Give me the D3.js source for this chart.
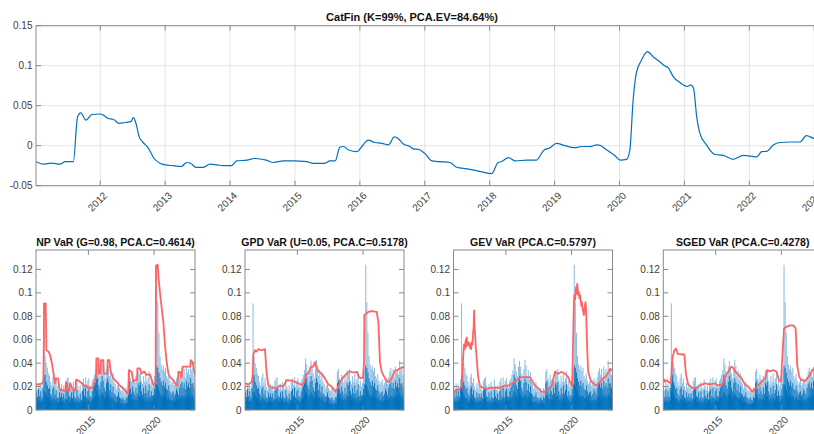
<!DOCTYPE html>
<html><head><meta charset="utf-8">
<script src="https://cdn.jsdelivr.net/npm/d3@7"></script>
<style>
html,body{margin:0;padding:0;background:#fff;overflow:hidden}
svg{display:block;font-family:"Liberation Sans",Arial,Helvetica,sans-serif}
</style></head><body>
<svg id="c" width="814" height="434"></svg>
<script>
// ---------- DATA ----------
const xDomain = [2011.01, 2023.12];
const topYTicks = [-0.05, 0, 0.05, 0.1, 0.15];
const topXTicks = [2012, 2013, 2014, 2015, 2016, 2017, 2018, 2019, 2020, 2021, 2022, 2023];
const botYTicks = [0, 0.02, 0.04, 0.06, 0.08, 0.1, 0.12];
const botXTicks = [2015, 2020];

const topTitle = "CatFin (K=99%, PCA.EV=84.64%)";
const panelTitles = ["NP VaR (G=0.98, PCA.C=0.4614)", "GPD VaR (U=0.05, PCA.C=0.5178)", "GEV VaR (PCA.C=0.5797)", "SGED VaR (PCA.C=0.4278)"];

const catfinT = [2011.01,2011.12,2011.25,2011.38,2011.46,2011.56,2011.585,2011.65,2011.70,2011.78,2011.87,2011.995,2012.05,2012.12,2012.20,2012.29,2012.38,2012.47,2012.51,2012.55,2012.60,2012.65,2012.74,2012.83,2012.92,2013.00,2013.13,2013.25,2013.33,2013.39,2013.475,2013.59,2013.69,2013.80,2013.90,2014.02,2014.10,2014.26,2014.38,2014.56,2014.67,2014.82,2014.975,2015.18,2015.28,2015.46,2015.54,2015.62,2015.69,2015.75,2015.82,2015.96,2016.03,2016.13,2016.23,2016.34,2016.44,2016.53,2016.59,2016.67,2016.77,2016.82,2016.90,2017.00,2017.11,2017.23,2017.39,2017.49,2017.65,2017.85,2018.03,2018.13,2018.18,2018.29,2018.39,2018.57,2018.72,2018.83,2018.93,2019.03,2019.16,2019.31,2019.42,2019.55,2019.65,2019.70,2019.80,2019.93,2020.01,2020.11,2020.16,2020.21,2020.26,2020.34,2020.43,2020.52,2020.62,2020.70,2020.75,2020.83,2020.93,2021.04,2021.10,2021.14,2021.19,2021.24,2021.34,2021.47,2021.60,2021.75,2021.91,2022.11,2022.19,2022.27,2022.37,2022.47,2022.63,2022.78,2022.88,2023.00,2023.12];
const catfinV = [-0.020,-0.023,-0.0217,-0.023,-0.020,-0.020,-0.020,0.036,0.041,0.032,0.039,0.0396,0.038,0.034,0.033,0.028,0.029,0.030,0.035,0.028,0.011,0.005,-0.003,-0.016,-0.022,-0.024,-0.025,-0.026,-0.021,-0.022,-0.027,-0.027,-0.023,-0.024,-0.025,-0.025,-0.019,-0.018,-0.016,-0.018,-0.021,-0.019,-0.019,-0.020,-0.022,-0.022,-0.019,-0.019,-0.002,-0.001,-0.005,-0.0075,-0.001,0.007,0.004,0.003,0.001,0.011,0.009,0.002,-0.001,-0.004,-0.0046,-0.0096,-0.019,-0.020,-0.021,-0.027,-0.029,-0.032,-0.035,-0.021,-0.020,-0.015,-0.019,-0.018,-0.018,-0.006,-0.0025,0.003,0.000,-0.0025,-0.001,-0.001,0.001,0.0004,-0.005,-0.0125,-0.018,-0.017,-0.005,0.057,0.091,0.107,0.1175,0.111,0.105,0.0996,0.0975,0.086,0.079,0.074,0.076,0.072,0.036,0.015,0.001,-0.011,-0.012,-0.017,-0.012,-0.014,-0.0075,-0.007,0.001,0.004,0.0046,0.0046,0.0125,0.009,0.008];

// monthly blue loss bars (Jan 2011 .. Feb 2023)
// thin light-blue spikes
const lossHi = [
 .021,.017,.023,.019,.022,.018,.026,.091,.046,.040,.036,.031,
 .029,.024,.021,.028,.031,.023,.027,.020,.017,.023,.019,.022,
 .018,.021,.016,.025,.027,.028,.021,.018,.022,.017,.024,.019,
 .018,.026,.020,.017,.021,.016,.024,.027,.021,.028,.020,.025,
 .027,.021,.019,.025,.027,.030,.034,.044,.039,.033,.029,.037,
 .042,.037,.031,.027,.035,.043,.038,.029,.034,.026,.032,.024,
 .022,.018,.021,.024,.019,.017,.016,.019,.016,.014,.019,.017,
 .033,.035,.027,.024,.030,.026,.023,.029,.025,.034,.031,.035,
 .025,.022,.029,.024,.031,.024,.027,.033,.021,.025,.020,.023,
 .029,.035,.124,.092,.066,.046,.039,.035,.038,.033,.036,.029,
 .027,.031,.025,.022,.024,.026,.021,.023,.027,.025,.022,.028,
 .033,.036,.030,.035,.028,.037,.032,.035,.030,.042,.034,.036,
 .030,.025];
// thin dark-blue spikes
const lossMid = [
 .015,.011,.018,.012,.016,.011,.019,.030,.030,.024,.021,.018,
 .019,.014,.012,.018,.020,.013,.017,.011,.010,.015,.011,.014,
 .011,.014,.010,.017,.018,.019,.012,.011,.015,.010,.016,.011,
 .010,.017,.012,.010,.014,.009,.016,.018,.012,.019,.011,.016,
 .018,.012,.011,.016,.019,.021,.023,.030,.027,.021,.018,.024,
 .029,.025,.019,.016,.023,.027,.024,.017,.022,.015,.020,.014,
 .013,.011,.012,.015,.011,.010,.009,.011,.009,.008,.011,.010,
 .023,.025,.018,.014,.020,.016,.013,.019,.014,.023,.021,.024,
 .016,.013,.019,.014,.021,.014,.017,.022,.012,.016,.012,.013,
 .018,.022,.038,.036,.032,.027,.024,.021,.025,.020,.023,.018,
 .017,.021,.016,.013,.015,.016,.012,.014,.018,.016,.013,.019,
 .022,.024,.019,.023,.018,.025,.020,.023,.019,.027,.022,.023,
 .019,.015];
// dense dark-blue body
const lossBody = [
 .008,.007,.009,.007,.008,.007,.009,.016,.015,.013,.011,.010,
 .010,.008,.007,.009,.010,.008,.009,.007,.006,.008,.007,.008,
 .007,.008,.006,.009,.009,.010,.007,.007,.008,.006,.008,.007,
 .006,.009,.007,.006,.008,.006,.008,.009,.007,.010,.007,.009,
 .009,.007,.007,.009,.010,.011,.012,.016,.014,.012,.010,.013,
 .015,.013,.011,.010,.012,.014,.012,.010,.011,.009,.011,.008,
 .007,.006,.007,.008,.006,.006,.005,.006,.005,.005,.006,.006,
 .012,.013,.010,.008,.010,.009,.008,.010,.008,.012,.011,.012,
 .009,.008,.010,.008,.011,.008,.009,.011,.007,.009,.007,.008,
 .010,.012,.022,.020,.017,.014,.012,.011,.013,.011,.012,.010,
 .009,.011,.009,.008,.008,.009,.007,.008,.009,.009,.008,.010,
 .011,.012,.010,.012,.010,.013,.011,.012,.010,.014,.011,.012,
 .010,.009];

const npT = [2011.01,2011.30,2011.45,2011.57,2011.61,2011.62,2011.75,2011.78,2011.80,2011.95,2012.08,2012.20,2012.33,2012.40,2012.48,2012.52,2012.58,2012.70,2012.75,2012.79,2012.97,2013.17,2013.24,2013.29,2013.36,2013.42,2013.55,2013.60,2013.75,2013.90,2014.02,2014.06,2014.31,2014.49,2014.67,2014.82,2015.00,2015.33,2015.58,2015.61,2015.63,2015.76,2015.80,2015.83,2015.92,2015.96,2016.14,2016.18,2016.21,2016.39,2016.44,2016.47,2016.60,2016.70,2016.90,2017.15,2017.41,2017.66,2017.97,2018.05,2018.09,2018.30,2018.42,2018.55,2018.70,2018.73,2018.93,2019.06,2019.24,2019.44,2019.69,2019.95,2020.07,2020.12,2020.15,2020.28,2020.35,2020.50,2020.71,2020.84,2020.96,2021.09,2021.22,2021.47,2021.72,2021.80,2021.85,2021.98,2022.05,2022.10,2022.18,2022.23,2022.49,2022.69,2022.76,2022.79,2022.94,2022.99,2023.12];
const npV = [0.0218,0.022,0.0227,0.024,0.060,0.091,0.091,0.070,0.051,0.050,0.047,0.041,0.0326,0.027,0.0227,0.027,0.027,0.027,0.020,0.018,0.017,0.0165,0.016,0.0235,0.0235,0.0165,0.0165,0.023,0.019,0.0167,0.0167,0.026,0.0247,0.0227,0.0207,0.021,0.019,0.019,0.0275,0.044,0.044,0.044,0.031,0.031,0.031,0.0426,0.0426,0.031,0.031,0.031,0.031,0.0426,0.0426,0.0326,0.027,0.024,0.0207,0.0184,0.0142,0.0142,0.034,0.0326,0.024,0.0255,0.0255,0.0355,0.0355,0.031,0.033,0.030,0.0304,0.0213,0.0227,0.0227,0.1234,0.124,0.112,0.095,0.075,0.055,0.041,0.031,0.028,0.0255,0.021,0.021,0.0326,0.0326,0.028,0.028,0.037,0.037,0.037,0.037,0.037,0.0426,0.041,0.037,0.030];

const gpdT = [2011.01,2011.26,2011.52,2011.60,2011.64,2011.77,2011.90,2012.03,2012.28,2012.53,2012.66,2012.79,2013.04,2013.29,2013.42,2013.68,2013.93,2014.18,2014.56,2014.82,2015.07,2015.33,2015.53,2015.66,2015.83,2016.04,2016.21,2016.34,2016.47,2016.65,2016.85,2017.10,2017.36,2017.61,2017.87,2018.07,2018.25,2018.50,2018.75,2019.01,2019.26,2019.52,2019.69,2019.85,2020.00,2020.07,2020.10,2020.20,2020.40,2020.66,2021.04,2021.17,2021.29,2021.42,2021.67,2021.88,2022.05,2022.23,2022.38,2022.56,2022.82,2023.12];
const gpdV = [0.0227,0.0218,0.024,0.030,0.047,0.051,0.050,0.052,0.051,0.052,0.031,0.021,0.019,0.019,0.0184,0.021,0.020,0.0255,0.025,0.024,0.0227,0.0213,0.0235,0.0304,0.031,0.037,0.037,0.041,0.0355,0.0326,0.031,0.027,0.0218,0.020,0.0156,0.0184,0.024,0.028,0.031,0.033,0.032,0.0326,0.028,0.027,0.028,0.040,0.081,0.082,0.0837,0.0845,0.0837,0.075,0.041,0.0326,0.027,0.024,0.0247,0.028,0.0326,0.034,0.0355,0.037];

const gevT = [2011.01,2011.26,2011.52,2011.64,2011.70,2011.77,2011.82,2011.86,2011.90,2011.95,2012.00,2012.02,2012.06,2012.12,2012.17,2012.23,2012.28,2012.35,2012.40,2012.45,2012.50,2012.55,2012.58,2012.62,2012.66,2012.72,2012.78,2012.85,2012.91,2013.04,2013.29,2013.54,2013.80,2014.18,2014.56,2014.94,2015.19,2015.44,2015.70,2015.87,2016.08,2016.46,2016.84,2017.04,2017.22,2017.47,2017.72,2017.98,2018.23,2018.48,2018.74,2018.99,2019.24,2019.50,2019.75,2019.93,2020.05,2020.12,2020.18,2020.22,2020.26,2020.31,2020.35,2020.39,2020.43,2020.47,2020.52,2020.56,2020.60,2020.65,2020.69,2020.74,2020.79,2020.84,2020.89,2020.94,2021.00,2021.07,2021.11,2021.14,2021.20,2021.27,2021.45,2021.65,2021.90,2022.16,2022.41,2022.66,2022.92,2023.12];
const gevV = [0.0156,0.017,0.0184,0.021,0.035,0.050,0.056,0.052,0.055,0.060,0.054,0.062,0.056,0.058,0.055,0.057,0.053,0.052,0.058,0.056,0.065,0.072,0.085,0.070,0.064,0.052,0.044,0.033,0.027,0.020,0.019,0.018,0.019,0.019,0.019,0.021,0.0207,0.0227,0.024,0.0255,0.028,0.028,0.028,0.024,0.021,0.0184,0.0156,0.0156,0.0184,0.020,0.0326,0.031,0.0326,0.031,0.028,0.0227,0.0207,0.060,0.092,0.098,0.094,0.1007,0.105,0.099,0.1078,0.104,0.098,0.1007,0.095,0.098,0.095,0.089,0.092,0.0865,0.084,0.081,0.088,0.092,0.085,0.072,0.050,0.0326,0.0255,0.0227,0.021,0.024,0.027,0.029,0.035,0.034];

const sgedT = [2011.01,2011.14,2011.26,2011.39,2011.59,2011.70,2011.85,2011.97,2012.10,2012.41,2012.61,2012.74,2012.91,2013.17,2013.55,2013.80,2014.18,2014.56,2014.94,2015.20,2015.50,2015.70,2015.96,2016.16,2016.34,2016.52,2016.72,2016.97,2017.23,2017.48,2017.79,2017.99,2018.24,2018.50,2018.75,2018.93,2019.13,2019.39,2019.64,2019.82,2019.97,2020.10,2020.20,2020.40,2020.65,2020.91,2021.09,2021.21,2021.37,2021.54,2021.80,2022.05,2022.30,2022.48,2022.70,2023.12];
const sgedV = [0.027,0.024,0.0255,0.024,0.0227,0.044,0.051,0.0525,0.048,0.0474,0.0474,0.030,0.0218,0.019,0.0184,0.021,0.0227,0.0218,0.0227,0.021,0.0218,0.028,0.0326,0.037,0.036,0.0326,0.030,0.027,0.0218,0.020,0.0156,0.0184,0.021,0.024,0.027,0.034,0.033,0.034,0.0326,0.0255,0.024,0.050,0.0695,0.071,0.0723,0.0723,0.0695,0.038,0.028,0.0255,0.0247,0.028,0.0326,0.0355,0.036,0.037];

const redSeries = [[npT,npV],[gpdT,gpdV],[gevT,gevV],[sgedT,sgedV]];

// ---------- DRAW ----------
const svg = d3.select("#c");
const TXT = "#404040", AX = "#8a8a8a", GRID = "#e4e4e4";
const BLUE = "#0072BD", LBLUE = "#8cbde3", RED = "#ff6464";

function fmt(v){ return v === 0 ? "0" : String(+v.toFixed(3)); }

function grid(g, x, y, xt, yt, W, H) {
  g.append("g").selectAll("line").data(xt).join("line")
    .attr("x1", d => x(d)).attr("x2", d => x(d)).attr("y1", 0).attr("y2", H)
    .attr("stroke", GRID).attr("stroke-width", 1);
  g.append("g").selectAll("line").data(yt).join("line")
    .attr("x1", 0).attr("x2", W).attr("y1", d => y(d)).attr("y2", d => y(d))
    .attr("stroke", GRID).attr("stroke-width", 1);
}
function axesOver(g, x, y, xt, yt, W, H) {
  const tl = 5;
  g.append("rect").attr("x", 0).attr("y", 0).attr("width", W).attr("height", H)
    .attr("fill", "none").attr("stroke", AX).attr("stroke-width", 1);
  const tk = g.append("g").attr("stroke", AX).attr("stroke-width", 1);
  xt.forEach(d => {
    tk.append("line").attr("x1", x(d)).attr("x2", x(d)).attr("y1", H).attr("y2", H - tl);
    tk.append("line").attr("x1", x(d)).attr("x2", x(d)).attr("y1", 0).attr("y2", tl);
  });
  yt.forEach(d => {
    tk.append("line").attr("x1", 0).attr("x2", tl).attr("y1", y(d)).attr("y2", y(d));
    tk.append("line").attr("x1", W).attr("x2", W - tl).attr("y1", y(d)).attr("y2", y(d));
  });
  g.append("g").selectAll("text").data(yt).join("text")
    .attr("x", -3.5).attr("y", d => y(d)).attr("dy", "0.35em")
    .attr("text-anchor", "end").attr("font-size", 10).attr("fill", TXT).text(fmt);
  g.append("g").selectAll("text").data(xt).join("text")
    .attr("transform", d => `translate(${x(d) + 7.5},${H + 10.5}) rotate(-45)`)
    .attr("text-anchor", "end").attr("font-size", 10).attr("fill", TXT).text(d => d);
}

// top panel
{
  const L = 36, T = 25.7, W = 786, H = 160;
  const g = svg.append("g").attr("transform", `translate(${L},${T})`);
  const x = d3.scaleLinear().domain(xDomain).range([0, W]);
  const y = d3.scaleLinear().domain([-0.05, 0.15]).range([H, 0]);
  g.append("clipPath").attr("id", "cp0").append("rect").attr("width", W).attr("height", H);
  grid(g, x, y, topXTicks, topYTicks, W, H);
  g.append("path").attr("clip-path", "url(#cp0)")
    .datum(d3.range(catfinT.length))
    .attr("d", d3.line().curve(d3.curveMonotoneX).x(i => x(catfinT[i])).y(i => y(catfinV[i])))
    .attr("fill", "none").attr("stroke", BLUE).attr("stroke-width", 1.2);
  axesOver(g, x, y, topXTicks, topYTicks, W, H);
  svg.append("text").attr("x", 412).attr("y", 21).attr("text-anchor", "middle")
    .attr("font-size", 11).attr("font-weight", "bold").attr("fill", "#111").text(topTitle);
}

// bottom panels
const lefts = [36, 245, 453.5, 663.3];
lefts.forEach((L, k) => {
  const T = 250, W = 159, H = 160;
  const g = svg.append("g").attr("transform", `translate(${L},${T})`);
  const x = d3.scaleLinear().domain(xDomain).range([0, W]);
  const y = d3.scaleLinear().domain([0, 0.1366]).range([H, 0]);
  const id = "cpb" + k;
  g.append("clipPath").attr("id", id).append("rect").attr("width", W).attr("height", H);
  const dg = g.append("g").attr("clip-path", `url(#${id})`);
  const mt = i => 2011 + i / 12;
  const bars = (arr, cls, col, frac, off) => dg.selectAll("rect." + cls).data(arr).join("rect").attr("class", cls)
    .attr("x", (d, i) => x(mt(i)) + off * (x(mt(i + 1)) - x(mt(i))))
    .attr("width", (d, i) => frac * (x(mt(i + 1)) - x(mt(i))))
    .attr("y", d => y(d)).attr("height", d => y(0) - y(d)).attr("fill", col);
  bars(lossHi, "hi", LBLUE, 0.95, 0.0);
  bars(lossMid, "mid", BLUE, 0.8, 0.1);
  bars(lossBody, "body", BLUE, 1.05, 0.0);
  const [rt, rv] = redSeries[k];
  dg.append("path").datum(d3.range(rt.length))
    .attr("d", d3.line().x(i => x(rt[i])).y(i => y(rv[i])))
    .attr("fill", "none").attr("stroke", RED).attr("stroke-width", 1.8).attr("stroke-linejoin", "round");
  axesOver(g, x, y, botXTicks, botYTicks, W, H);
  svg.append("text").attr("x", L + W / 2).attr("y", 245.5).attr("text-anchor", "middle")
    .attr("font-size", 10.5).attr("font-weight", "bold").attr("fill", "#111").text(panelTitles[k]);
});
</script></body></html>
